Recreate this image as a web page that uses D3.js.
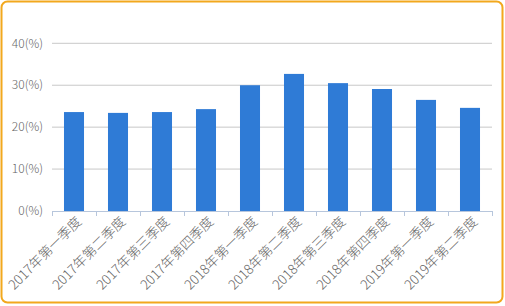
<!DOCTYPE html>
<html><head><meta charset="utf-8">
<script src="https://cdn.jsdelivr.net/npm/d3@7"></script>
<style>html,body{margin:0;padding:0;background:#fff;}svg{display:block;}</style>
</head><body>
<script>
const categories = ["2017年第一季度","2017年第二季度","2017年第三季度","2017年第四季度","2018年第一季度","2018年第二季度","2018年第三季度","2018年第四季度","2019年第一季度","2019年第二季度"];
const values = [23.6, 23.4, 23.6, 24.3, 30.0, 32.7, 30.5, 29.1, 26.5, 24.6];
const yTicks = [0, 10, 20, 30, 40];
const yTickLabels = ["0(%)","10(%)","20(%)","30(%)","40(%)"];

const W = 505, H = 306;
const svg = d3.select("body").append("svg").attr("width", W).attr("height", H);
const font = "'Noto Sans CJK SC', 'Noto Sans', sans-serif";

svg.append("rect").attr("x", 1.5).attr("y", 1.5).attr("width", W - 4).attr("height", H - 5)
  .attr("rx", 6).attr("fill", "#fff").attr("stroke", "#f2a81d").attr("stroke-width", 2);

const x = d3.scaleBand().domain(categories).range([52, 492]).paddingInner(0.545).paddingOuter(0.2725);
const y = d3.scaleLinear().domain([0, 40]).range([211, 43.3]);

// gridlines
svg.append("g").selectAll("line").data(yTicks.filter(d => d > 0)).join("line")
  .attr("x1", 52).attr("x2", 492).attr("y1", d => y(d)).attr("y2", d => y(d))
  .attr("stroke", "#c8c8c8").attr("stroke-width", 1);

// y labels
svg.append("g").selectAll("text").data(yTicks).join("text")
  .attr("x", 43).attr("y", d => y(d)).attr("dy", "0.35em").attr("text-anchor", "end")
  .attr("font-family", font).attr("font-size", 12).attr("font-weight", 300).attr("fill", "#666")
  .text((d, i) => yTickLabels[i]);

// bars
svg.append("g").selectAll("rect").data(values).join("rect")
  .attr("x", (d, i) => x(categories[i])).attr("width", x.bandwidth())
  .attr("y", d => y(d)).attr("height", d => y(0) - y(d)).attr("fill", "#2f7bd6");

// x axis
const step = 440 / categories.length;
svg.append("line").attr("x1", 52).attr("x2", 492).attr("y1", 211.5).attr("y2", 211.5)
  .attr("stroke", "#b7c6dc").attr("stroke-width", 1);
svg.append("g").selectAll("line").data(d3.range(categories.length + 1)).join("line")
  .attr("x1", i => 52.5 + i * step).attr("x2", i => 52.5 + i * step)
  .attr("y1", 211).attr("y2", 216).attr("stroke", "#b7c6dc");

svg.append("g").selectAll("text").data(categories).join("text")
  .attr("transform", d => `translate(${x(d) + x.bandwidth() / 2 + 5},${219}) rotate(-45)`)
  .attr("text-anchor", "end").attr("dy", "0.35em")
  .attr("font-family", font).attr("font-size", 13.5).attr("font-weight", 300).attr("fill", "#666")
  .text(d => d);
</script>
</body></html>
